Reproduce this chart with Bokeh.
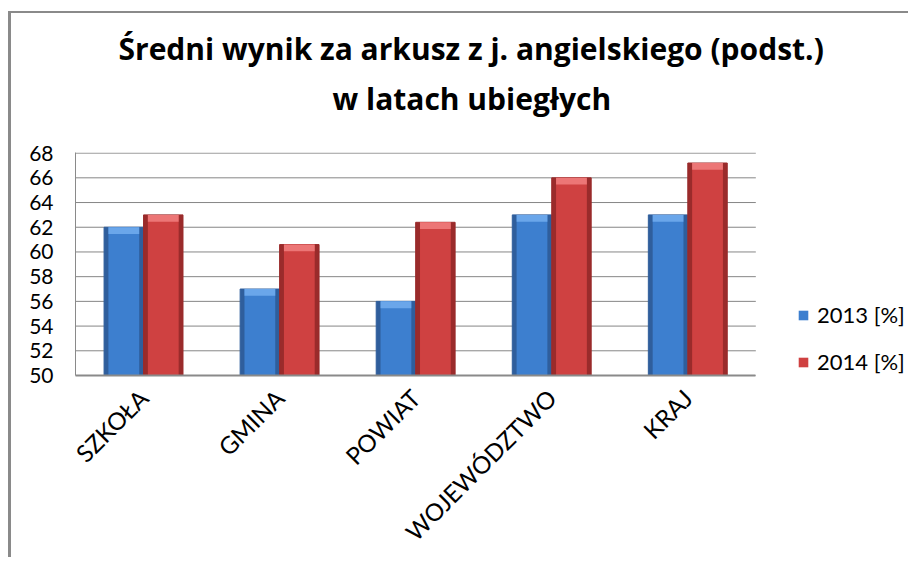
import math
from bokeh.plotting import figure
from bokeh.models import (ColumnDataSource, FixedTicker, Title, Range1d,
                          Legend, LegendItem)
from bokeh.embed import file_html
from bokeh.resources import INLINE

categories = ["SZKOŁA", "GMINA", "POWIAT", "WOJEWÓDZTWO", "KRAJ"]
series_2013 = [62, 57, 56, 63, 63]
series_2014 = [63, 60.6, 62.4, 66, 67.2]
series_names = ["2013 [%]", "2014 [%]"]
y_ticks = [50, 52, 54, 56, 58, 60, 62, 64, 66, 68]
title_lines = ["Średni wynik za arkusz z j. angielskiego (podst.)", "w latach ubiegłych"]

BASE = 50
CAP = 0.55
BW = 0.29
OFF = 0.145
N = len(categories)
centers = [i + 0.5 for i in range(N)]

src = ColumnDataSource(dict(
    x13=[c - OFF for c in centers],
    x14=[c + OFF for c in centers],
    v13=series_2013,
    v14=series_2014,
    c13=[v - CAP for v in series_2013],
    c14=[v - CAP for v in series_2014],
))

# frame spans the category area plus room on the right for the legend
p = figure(x_range=Range1d(0, N * 1.22), y_range=Range1d(50, 68.05),
           width=900, height=546, output_backend="svg", toolbar_location=None,
           min_border_left=64, min_border_right=6, min_border_top=139,
           min_border_bottom=181)
p.styles = {"border-left": "3px solid #8a8a8a", "border-top": "2px solid #8a8a8a",
            "margin-top": "11px", "margin-left": "8px"}
p.outline_line_color = None
p.background_fill_color = "white"
p.border_fill_color = "white"

# horizontal gridlines limited to the category area
p.segment(x0=[0] * len(y_ticks), x1=[N] * len(y_ticks), y0=y_ticks, y1=y_ticks,
          line_color="#868686", line_width=1)

# bars
specs = [("x13", "v13", "c13", "#2f5e9c", "#3d7fcf", "#6aa6ea"),
         ("x14", "v14", "c14", "#9a2b2b", "#cf4141", "#ec7676")]
legend_renderers = []
for xs, val, cap, dark, body, light in specs:
    p.vbar(x=xs, top=val, bottom=BASE, width=BW, source=src,
           fill_color=dark, line_color=dark, line_width=1)
    r = p.vbar(x=xs, top=val, bottom=BASE, width=BW * 0.78, source=src,
               fill_color=body, line_color=None)
    p.vbar(x=xs, top=val, bottom=cap, width=BW * 0.78, source=src,
           fill_color=light, line_color=None)
    legend_renderers.append(r)

# axes
p.yaxis.ticker = FixedTicker(ticks=y_ticks)
p.yaxis.major_label_text_font = "Lato"
p.yaxis.major_label_text_font_size = "21px"
p.yaxis.major_label_text_color = "black"
p.yaxis.major_tick_line_color = None
p.yaxis.minor_tick_line_color = None
p.yaxis.axis_line_color = "#8a8a8a"
p.yaxis.major_label_standoff = 16

p.xaxis.ticker = FixedTicker(ticks=centers)
p.xaxis.major_label_overrides = {c: lab for c, lab in zip(centers, categories)}
p.xaxis.bounds = (0, N)
p.xaxis.major_label_orientation = math.pi / 4
p.xaxis.major_label_text_font = "Lato"
p.xaxis.major_label_text_font_size = "24px"
p.xaxis.major_label_text_color = "black"
p.xaxis.major_tick_line_color = None
p.xaxis.minor_tick_line_color = None
p.xaxis.axis_line_color = "#8a8a8a"
p.xaxis.axis_line_width = 2
p.xaxis.major_label_standoff = 12

p.xgrid.grid_line_color = None
p.ygrid.grid_line_color = None

# title (two lines) with a spacer next to the frame
p.add_layout(Title(text=" ", text_font_size="1px", standoff=27), "above")
p.add_layout(Title(text=title_lines[1], align="left", offset=257, text_font="Open Sans",
                   text_font_size="30px", text_font_style="bold",
                   text_color="black", standoff=7), "above")
p.add_layout(Title(text=title_lines[0], align="left", offset=43, text_font="Open Sans",
                   text_font_size="30px", text_font_style="bold",
                   text_color="black", standoff=7), "above")

legend = Legend(items=[LegendItem(label=series_names[i], renderers=[legend_renderers[i]])
                       for i in range(2)],
                location=(722, 0), orientation="vertical",
                glyph_width=12, glyph_height=12, label_height=20,
                label_standoff=8, spacing=20, padding=0, margin=0,
                border_line_color=None, background_fill_alpha=0,
                label_text_font="Lato", label_text_font_size="22px",
                label_text_color="black")
p.add_layout(legend, "center")

open("out.html", "w").write(file_html(p, INLINE))
